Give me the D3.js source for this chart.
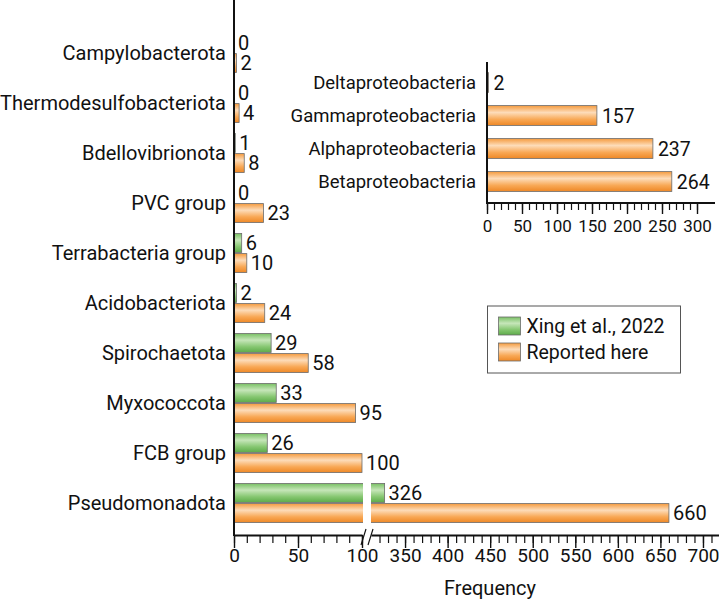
<!DOCTYPE html>
<html lang="en">
<head>
    <meta charset="utf-8">
    <title>Frequency by phylum</title>
    <style>
        body { margin: 0; padding: 0; background: #fff; }
        svg text { font-family: Roboto, "Open Sans", sans-serif; fill: #111; }
        .axis path, .axis line { stroke: #111; }
    </style>
</head>
<body>
<div id="chart"></div>
<script src="https://d3js.org/d3.v7.min.js"></script>
<script>
  // Main chart data (top to bottom)
  const categories = ["Campylobacterota", "Thermodesulfobacteriota", "Bdellovibrionota", "PVC group",
    "Terrabacteria group", "Acidobacteriota", "Spirochaetota", "Myxococcota", "FCB group", "Pseudomonadota"];
  const xingValues = [0, 0, 1, 0, 6, 2, 29, 33, 26, 326];
  const reportedValues = [2, 4, 8, 23, 10, 24, 58, 95, 100, 660];
  const seriesNames = ["Xing et al., 2022", "Reported here"];
  const mainTicks = [0, 50, 100, 350, 400, 450, 500, 550, 600, 650, 700];

  // Inset (Pseudomonadota classes)
  const insetCategories = ["Deltaproteobacteria", "Gammaproteobacteria", "Alphaproteobacteria", "Betaproteobacteria"];
  const insetValues = [2, 157, 237, 264];
  const insetTicks = [0, 50, 100, 150, 200, 250, 300];

  const width = 719, height = 599;
  const axisY = 535;
  const fontSize = 20;
  const tickFont = 19;
  const fontFam = "Roboto, sans-serif";

  const svg = d3.select("#chart").append("svg")
    .attr("width", width)
    .attr("height", height);

  // gradients for the shiny bars
  const defs = svg.append("defs");
  const gradients = [
    { id: "gGreen", stops: ["#79c064", "#c6e6b9", "#86c771", "#5eab4a"] },
    { id: "gOrange", stops: ["#f59b3f", "#fddcb9", "#f8a855", "#ee8826"] }
  ];
  gradients.forEach(g => {
    const lg = defs.append("linearGradient").attr("id", g.id)
      .attr("x1", 0).attr("y1", 0).attr("x2", 0).attr("y2", 1);
    [0, 0.35, 0.7, 1].forEach((o, i) => lg.append("stop").attr("offset", o).attr("stop-color", g.stops[i]));
  });
  const fills = ["url(#gGreen)", "url(#gOrange)"];

  // broken x scale: 0-100 then 310-720
  const x1 = d3.scaleLinear().domain([0, 100]).range([234, 362]);
  const x2 = d3.scaleLinear().domain([310, 720]).range([371, 720]);
  const xMain = v => v <= 100 ? x1(v) : x2(v);

  const y = d3.scaleBand().domain(categories).range([28, 528]);
  const ySub = d3.scaleBand().domain(seriesNames).range([5.5, 44.5]).paddingInner(0.06);

  // bars
  const rows = categories.map((c, i) => ({ cat: c, vals: [xingValues[i], reportedValues[i]] }));
  const groups = svg.selectAll("g.row").data(rows).enter().append("g")
    .attr("class", "row")
    .attr("transform", d => `translate(0,${y(d.cat)})`);

  groups.selectAll("rect.bar")
    .data(d => d.vals.map((v, k) => ({ v, k })))
    .enter().append("rect")
    .attr("class", "bar")
    .attr("x", x1(0))
    .attr("y", d => ySub(seriesNames[d.k]))
    .attr("width", d => xMain(d.v) - x1(0))
    .attr("height", ySub.bandwidth())
    .attr("fill", d => fills[d.k])
    .attr("stroke", d => d.v > 0 ? "#6b6b6b" : "none")
    .attr("stroke-width", 0.8);

  // white gap where bars cross the axis break
  groups.filter(d => d3.max(d.vals) > 100)
    .append("rect")
    .attr("x", x1(100) + 1)
    .attr("y", 0)
    .attr("width", x2(310) - x1(100) - 1)
    .attr("height", y.bandwidth())
    .attr("fill", "#fff");

  groups.selectAll("text.val")
    .data(d => d.vals.map((v, k) => ({ v, k })))
    .enter().append("text")
    .attr("class", "val")
    .attr("x", d => xMain(d.v) + 4)
    .attr("y", d => ySub(seriesNames[d.k]) + ySub.bandwidth() / 2)
    .attr("dy", "0.36em")
    .attr("font-size", fontSize)
    .text(d => d.v);

  // category labels
  svg.append("g")
    .attr("class", "axis")
    .attr("transform", `translate(${x1(0)},0)`)
    .call(d3.axisLeft(y).tickSize(0).tickPadding(8))
    .call(g => g.select(".domain").remove())
    .selectAll("text").attr("font-size", fontSize).attr("font-family", fontFam).attr("dy", "0.36em");

  svg.append("line")
    .attr("x1", x1(0)).attr("x2", x1(0))
    .attr("y1", 0).attr("y2", axisY + 1)
    .attr("stroke", "#111").attr("stroke-width", 2);

  // x axis, two segments, minor ticks every 10
  function drawAxis(scale, minor, major, lineW) {
    const g = svg.append("g").attr("class", "axis").attr("transform", `translate(0,${axisY})`);
    g.append("g")
      .call(d3.axisBottom(scale).tickValues(minor).tickSize(8).tickSizeOuter(0).tickFormat(""))
      .call(a => a.select(".domain").attr("stroke-width", lineW))
      .selectAll("line").attr("stroke-width", 1.2);
    g.append("g")
      .call(d3.axisBottom(scale).tickValues(major).tickSize(13).tickSizeOuter(0).tickPadding(1))
      .call(a => a.select(".domain").remove())
      .call(a => a.selectAll("line").attr("stroke-width", 1.4))
      .selectAll("text").attr("font-size", tickFont).attr("font-family", fontFam);
    return g;
  }
  drawAxis(x1, d3.range(0, 101, 10), mainTicks.filter(t => t <= 100), 2);
  drawAxis(x2, d3.range(320, 711, 10), mainTicks.filter(t => t > 100), 2);

  // break marks
  [x1(100) + 1, x1(100) + 8].forEach(bx => {
    svg.append("line")
      .attr("x1", bx - 2).attr("y1", axisY + 10)
      .attr("x2", bx + 3).attr("y2", axisY - 6)
      .attr("stroke", "#111").attr("stroke-width", 1.2);
  });

  svg.append("text")
    .attr("x", 490).attr("y", 595)
    .attr("text-anchor", "middle")
    .attr("font-size", fontSize)
    .text("Frequency");

  // ---- inset ----
  const insetTop = 62, insetAxisY = 203;
  const xi = d3.scaleLinear().domain([0, 300]).range([487, 697]);
  const yi = d3.scaleBand().domain(insetCategories).range([66, 198]).paddingInner(0.4).paddingOuter(0.2);

  svg.selectAll("rect.ibar").data(insetCategories).enter().append("rect")
    .attr("class", "ibar")
    .attr("x", xi(0))
    .attr("y", d => yi(d))
    .attr("width", (d, i) => xi(insetValues[i]) - xi(0))
    .attr("height", yi.bandwidth())
    .attr("fill", fills[1])
    .attr("stroke", "#6b6b6b")
    .attr("stroke-width", 0.8);

  svg.selectAll("text.ival").data(insetCategories).enter().append("text")
    .attr("class", "ival")
    .attr("x", (d, i) => xi(insetValues[i]) + 5)
    .attr("y", d => yi(d) + yi.bandwidth() / 2)
    .attr("dy", "0.36em")
    .attr("font-size", 19.5)
    .text((d, i) => insetValues[i]);

  svg.append("g")
    .attr("class", "axis")
    .attr("transform", `translate(${xi(0)},0)`)
    .call(d3.axisLeft(yi).tickSize(0).tickPadding(11))
    .call(g => g.select(".domain").remove())
    .selectAll("text").attr("font-size", 18.5).attr("font-family", fontFam).attr("dy", "0.36em");

  svg.append("line")
    .attr("x1", xi(0)).attr("x2", xi(0))
    .attr("y1", insetTop).attr("y2", insetAxisY + 1)
    .attr("stroke", "#111").attr("stroke-width", 2);

  const gi = svg.append("g").attr("class", "axis").attr("transform", `translate(0,${insetAxisY})`);
  gi.append("g")
    .call(d3.axisBottom(xi).tickValues(d3.range(0, 301, 10)).tickSize(7).tickSizeOuter(0).tickFormat(""))
    .call(a => a.select(".domain").remove())
    .selectAll("line").attr("stroke-width", 1.2);
  gi.append("g")
    .call(d3.axisBottom(xi).tickValues(insetTicks).tickSize(11).tickSizeOuter(0).tickPadding(6))
    .call(a => a.select(".domain").remove())
    .call(a => a.selectAll("line").attr("stroke-width", 1.4))
    .selectAll("text").attr("font-size", 17).attr("font-family", fontFam);
  gi.append("line")
    .attr("x1", xi(0)).attr("x2", 715)
    .attr("stroke", "#111").attr("stroke-width", 2);

  // ---- legend ----
  const legend = svg.append("g").attr("transform", "translate(487.5,306)");
  legend.append("rect")
    .attr("width", 193).attr("height", 67)
    .attr("fill", "#fff").attr("stroke", "#555").attr("stroke-width", 1);
  seriesNames.forEach((name, k) => {
    const row = legend.append("g").attr("transform", `translate(11,${11 + k * 26})`);
    row.append("rect").attr("width", 22).attr("height", 18)
      .attr("fill", fills[k]).attr("stroke", "#6b6b6b").attr("stroke-width", 0.8);
    row.append("text").attr("x", 28).attr("y", 9).attr("dy", "0.36em")
      .attr("font-size", 19.5).text(name);
  });
</script>
</body>
</html>
